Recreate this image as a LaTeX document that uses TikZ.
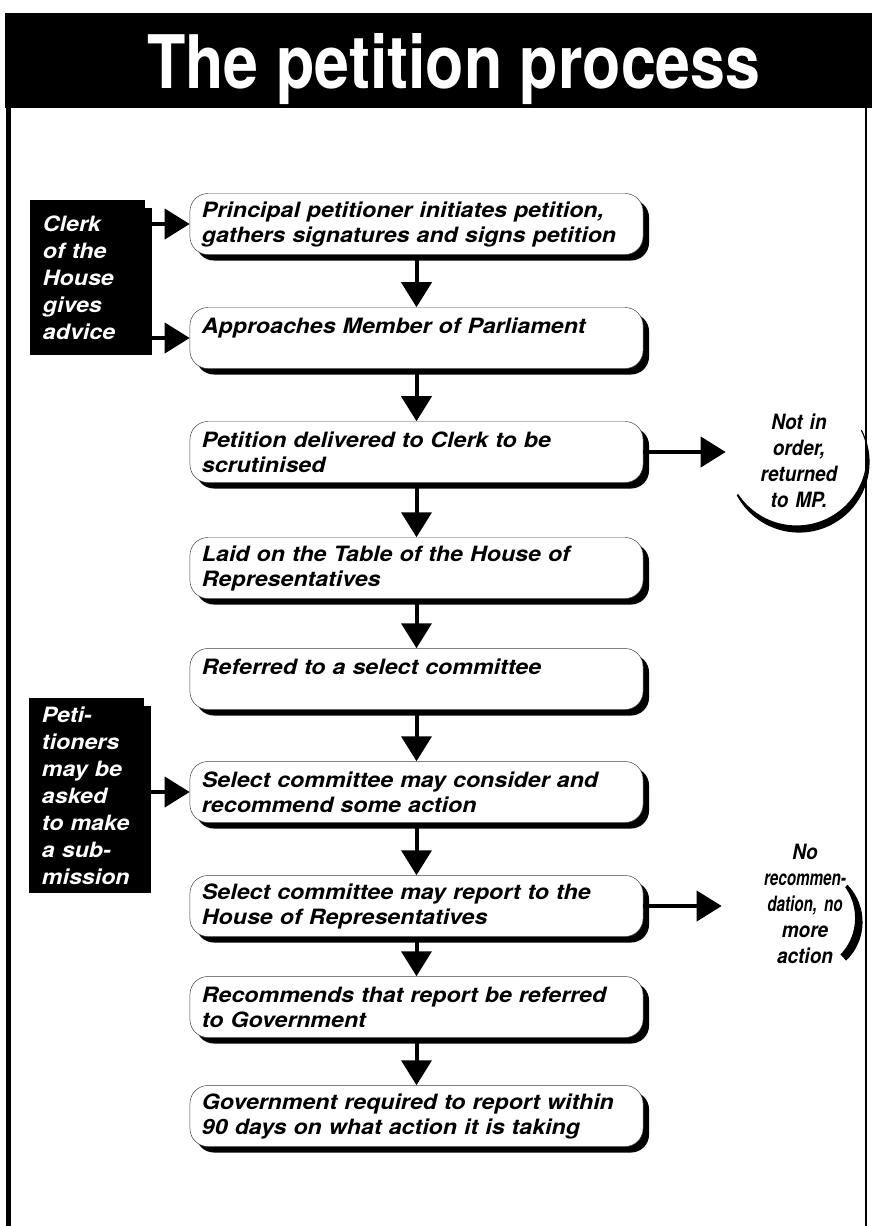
\documentclass[tikz,border=0pt]{standalone}
\usepackage{fontspec}
\setmainfont{TeX Gyre Heros}
\newfontfamily\boxfont[FakeStretch=1.1]{TeX Gyre Heros}
\newfontfamily\notefont[FakeStretch=0.9]{TeX Gyre Heros}
\newfontfamily\squeezefont[FakeStretch=0.72]{TeX Gyre Heros}
\newfontfamily\titlefont[FakeStretch=0.85]{TeX Gyre Heros}
\usetikzlibrary{arrows.meta, shadows}

\begin{document}
\begin{tikzpicture}[
        x=0.025cm, y=-0.025cm,
        stepbox/.style={draw=black!75, line width=0.35pt, fill=white, rounded corners=0.45cm,
            minimum width=11.325cm, minimum height=1.525cm, text width=10.725cm,
            inner xsep=0.3cm, align=left,
            font=\boxfont\bfseries\itshape\fontsize{15pt}{17.8pt}\selectfont,
            drop shadow={shadow xshift=0.15cm, shadow yshift=-0.15cm, fill=black, opacity=1}},
        sidebox/.style={fill=black, text=white, minimum width=2.875cm, text width=2.225cm,
            inner xsep=0.325cm, align=left,
            font=\boxfont\bfseries\itshape\fontsize{15pt}{19.2pt}\selectfont},
        note/.style={inner sep=0pt, align=center,
            font=\notefont\bfseries\itshape\fontsize{15pt}{18.5pt}\selectfont},
        arrow/.style={-{Triangle[length=0.625cm, width=0.75cm]}, line width=0.1cm}
    ]
    \useasboundingbox (0,0) rectangle (872,1226);

    % title bar and frame
    \fill (5,13) rectangle (872,108);
    \node[text=white, anchor=base, font=\titlefont\bfseries\fontsize{52.5pt}{60pt}\selectfont]
        (title) at (454,88) {The petition process};
    \draw[line width=0.1cm] (8.5,108) -- (8.5,1226);
    \draw[line width=0.04cm] (866,108) -- (866,1226);

    % main steps
    \foreach \n/\y/\txt in {
        1/224/{Principal petitioner initiates petition,\\gathers signatures and signs petition},
        2/338/{Approaches Member of Parliament\\\mbox{}},
        3/452/{Petition delivered to Clerk to be\\scrutinised},
        4/568/{Laid on the Table of the House of\\Representatives},
        5/679/{Referred to a select committee\\\mbox{}},
        6/792/{Select committee may consider and\\recommend some action},
        7/906/{Select committee may report to the\\House of Representatives},
        8/1007/{Recommends that report be referred\\to Government},
        9/1116/{Government required to report within\\90 days on what action it is taking}
    } {
        \node[stepbox] (s\n) at (416.5,\y) {\txt};
    }
    \foreach \a/\b in {1/2, 2/3, 3/4, 4/5, 5/6, 6/7, 7/8, 8/9} {
        \draw[arrow] (s\a) -- (s\b);
    }

    % side boxes
    \node[sidebox, minimum height=3.875cm] (clerk) at (87.5,277.5) {Clerk\\of the\\House\\gives\\advice};
    \node[sidebox, minimum height=4.875cm] (peti) at (86.5,795.5) {Peti-\\tioners\\may be\\asked\\to make\\a sub-\\mission};
    \foreach \b in {clerk, peti} {
        \fill ([yshift=-0.2cm]\b.north east) rectangle ([xshift=0.18cm]\b.south east);
    }
    \draw[arrow] (clerk.east |- s1.west) -- (s1.west);
    \draw[arrow] (clerk.east |- s2.west) -- (s2.west);
    \draw[arrow] (peti.east |- s6.west) -- (s6.west);

    % outcomes
    \node[note, text width=3.65cm] (ret) at (799,461) {Not in\\order,\\returned\\to MP.};
    \node[note, text width=4.15cm] (noact) at (805,904) {No\\{\squeezefont recommen-}\\{\squeezefont dation, no}\\more\\action};
    \draw[arrow] (s3.east) -- (s3.east -| ret.west);
    \draw[arrow] (s7.east) -- (s7.east -| noact.west);

    % crescents
    \begin{scope}[shift={(799,462)}, y=0.025cm]
        \begin{scope}
            \clip (0,0) -- (-152:100) arc[start angle=-152, end angle=27, radius=100] -- cycle;
            \fill[even odd rule] (0,0) circle[radius=70] (110:7) circle[radius=70];
        \end{scope}
        \draw[line width=0.8pt] (-152:70) arc[start angle=-152, end angle=27, radius=70];
    \end{scope}
    \begin{scope}[shift={(809,922)}, y=0.025cm]
        \begin{scope}
            \clip (0,0) -- (-46:80) arc[start angle=-46, end angle=44, radius=80] -- cycle;
            \fill[even odd rule] (0,0) circle[radius=53] (150:8) circle[radius=53];
        \end{scope}
        \draw[line width=0.8pt] (-46:53) arc[start angle=-46, end angle=44, radius=53];
    \end{scope}
\end{tikzpicture}
\end{document}
